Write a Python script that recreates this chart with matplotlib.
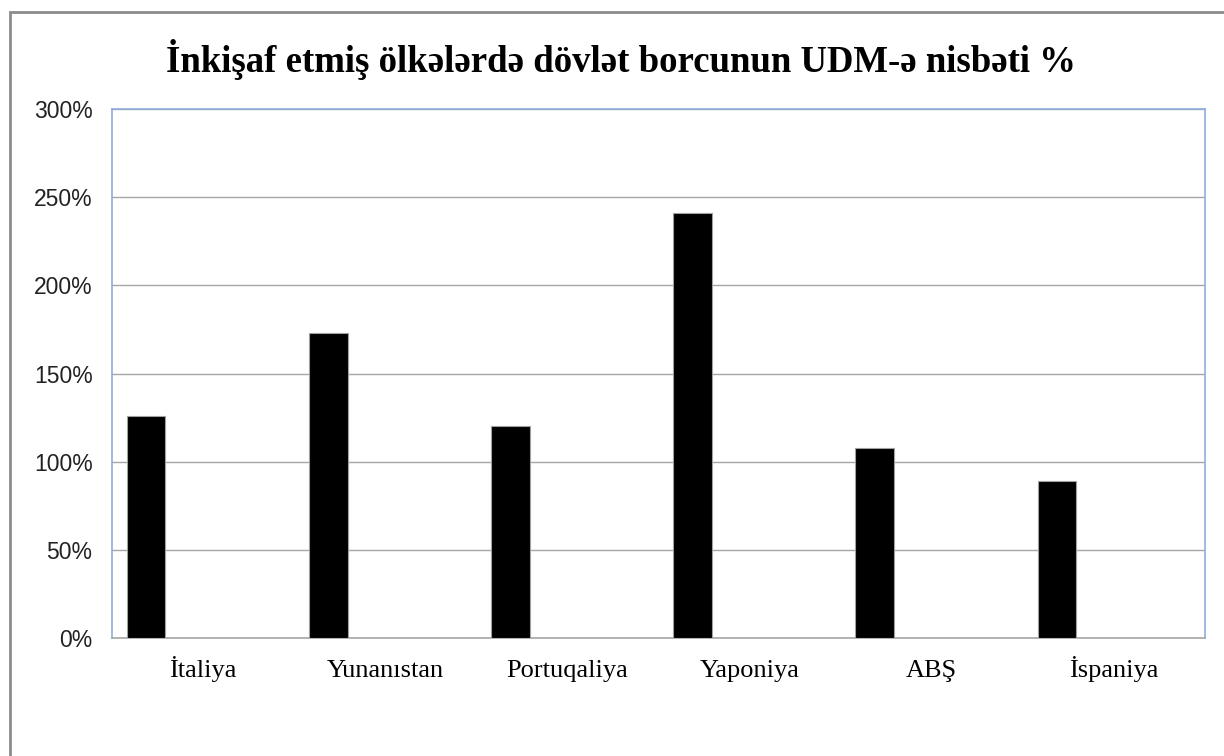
import matplotlib
matplotlib.use("Agg")
import matplotlib.pyplot as plt
from matplotlib.patches import Rectangle
from matplotlib.ticker import PercentFormatter

# Dövlət borcunun UDM-ə nisbəti (%)
olkeler = ["İtaliya", "Yunanıstan", "Portuqaliya", "Yaponiya", "ABŞ", "İspaniya"]
borc = [126, 173, 120, 241, 108, 89]
y_ticks = [0, 50, 100, 150, 200, 250, 300]

fig = plt.figure(figsize=(12.24, 7.56), dpi=100)
ax = fig.add_axes([0.0915, 0.1561, 0.893, 0.6997])

# cərçivə (şəklin kənarında kəsilmiş)
fig.patches.append(Rectangle((10 / 1224, -0.05), 1.2, (756 - 12) / 756 + 0.05,
                             transform=fig.transFigure, fill=False,
                             edgecolor="#8c8c8c", linewidth=2))

x = range(len(olkeler))
ax.bar([i - 0.313 for i in x], borc, width=0.212, color="black",
       edgecolor="#a0a0a0", linewidth=0.8, zorder=3)

ax.set_xlim(-0.5, len(olkeler) - 0.5)
ax.set_ylim(0, 300)
ax.set_yticks(y_ticks)
ax.yaxis.set_major_formatter(PercentFormatter(decimals=0))
ax.set_xticks(list(x))
ax.set_xticklabels(olkeler, fontfamily="Liberation Serif", fontsize=19, va="baseline")
for lbl in ax.get_yticklabels():
    lbl.set_fontfamily("Liberation Sans")
    lbl.set_fontsize(16.5)
    lbl.set_color("#222222")

ax.tick_params(axis="both", length=0)
ax.tick_params(axis="x", pad=28)
ax.tick_params(axis="y", pad=14)
ax.grid(axis="y", color="#a6a6a6", linewidth=1, zorder=0)

for s in ["left", "top", "right"]:
    ax.spines[s].set_color("#8eaedb")
    ax.spines[s].set_linewidth(1.2)
ax.spines["bottom"].set_color("#a6a6a6")
ax.spines["bottom"].set_linewidth(1.2)

fig.text(621 / 1224, 1 - 60 / 756, "İnkişaf etmiş ölkələrdə dövlət borcunun UDM-ə nisbəti %",
         ha="center", va="center", fontfamily="Liberation Serif",
         fontweight="bold", fontsize=26.5)

fig.savefig("out.png", dpi=100)
